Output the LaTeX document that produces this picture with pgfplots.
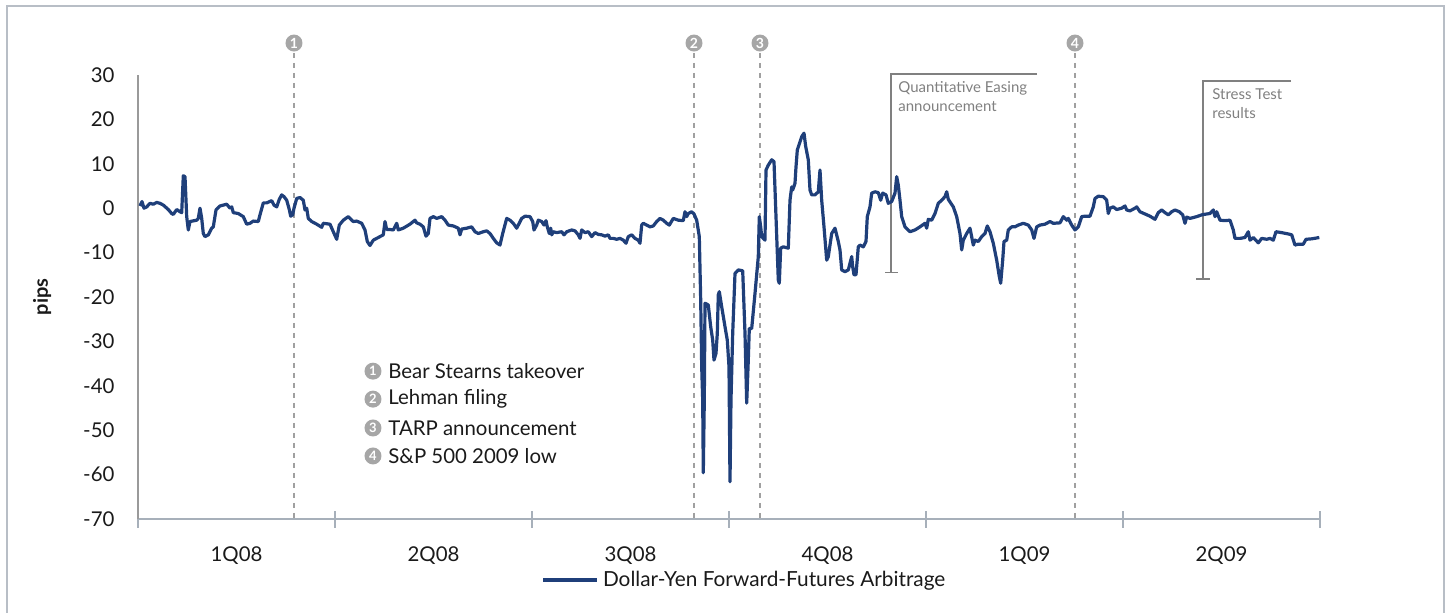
\documentclass[border=0pt]{standalone}
\usepackage{pgfplots}
\pgfplotsset{compat=1.18}
\usepackage{fontspec}
\setmainfont{Lato}
\definecolor{serie}{HTML}{1F3F7A}
\definecolor{framec}{HTML}{B8BEC6}
\definecolor{xaxc}{HTML}{A7B0BA}
\definecolor{yaxc}{HTML}{9A9A9A}
\definecolor{dashc}{HTML}{A0A0A0}
\definecolor{markc}{HTML}{A6A6A6}
\definecolor{annc}{HTML}{808080}
\definecolor{txt}{HTML}{1A1A1A}
\tikzset{
  evline/.style={dashc, line width=0.7pt, dash pattern=on 2.5pt off 2.5pt},
  evmark/.style={circle, fill=markc, inner sep=0pt, minimum size=8.5pt, text=white, font=\fontsize{7}{7}\selectfont\bfseries},
  keymark/.style={circle, fill=markc, inner sep=0pt, minimum size=8.5pt, text=white, font=\fontsize{6.5}{7}\selectfont\bfseries},
  keytext/.style={anchor=west, inner sep=0pt, text=txt, font=\fontsize{10.2}{12}\selectfont},
  anntext/.style={anchor=north west, align=left, text=annc, font=\fontsize{7.5}{9.5}\selectfont, inner sep=0pt},
}
\begin{document}
\begin{tikzpicture}
\useasboundingbox (-69pt,-46.5pt) rectangle (655pt,259.5pt);
\draw[framec, line width=0.75pt] (-65.5pt,-50pt) -- (-65.5pt,256.5pt) -- (653pt,256.5pt) -- (653pt,-50pt);
\begin{axis}[
  at={(0pt,0pt)}, anchor=south west,
  scale only axis, width=591pt, height=222pt,
  xmin=138, xmax=1320, ymin=-70, ymax=30,
  clip=false,
  axis x line=bottom, axis y line=left,
  every outer x axis line/.append style={-},
  every outer y axis line/.append style={-},
  x axis line style={xaxc, line width=1pt, -},
  y axis line style={yaxc, line width=0.75pt, -},
  xtick={138,335,532,729,926,1123,1320},
  xticklabels={1Q08,2Q08,3Q08,4Q08,1Q09,2Q09},
  x tick label as interval,
  tick align=center,
  major tick length=8.5pt,
  xtick style={xaxc, line width=1pt},
  ytick={-70,-60,...,30},
  ytick style={draw=none},
  /pgf/number format/assume math mode=true,
  ticklabel style={font=\fontsize{10.2}{12}\selectfont, text=txt},
  yticklabel style={xshift=-4pt},
  xticklabel style={yshift=-6pt},
  ylabel={pips},
  ylabel style={at={(axis description cs:-0.0812,0.5)}, anchor=center, font=\fontsize{10}{12}\selectfont\bfseries, text=txt},
  legend style={at={(axis description cs:0.514,-0.1374)}, anchor=center, draw=none, fill=none,
    font=\fontsize{10.4}{12}\selectfont, text=txt, inner sep=0pt},
  legend image code/.code={\draw[#1] (0pt,0pt) -- (27pt,0pt);},
  legend cell align=left,
]
% event lines
\draw[evline] (axis cs:294,35.0) -- (axis cs:294,-70);
\draw[evline] (axis cs:694,35.0) -- (axis cs:694,-70);
\draw[evline] (axis cs:760,35.0) -- (axis cs:760,-70);
\draw[evline] (axis cs:1075,35.0) -- (axis cs:1075,-70);
\node[evmark] at (axis cs:294,37.2) {1};
\node[evmark] at (axis cs:694,37.2) {2};
\node[evmark] at (axis cs:760,37.2) {3};
\node[evmark] at (axis cs:1075,37.2) {4};
% QE annotation
\draw[annc, line width=0.75pt] (axis cs:1037,30.2) -- (axis cs:891,30.2) -- (axis cs:891,-14.5);
\draw[annc, line width=0.75pt] (axis cs:885,-14.5) -- (axis cs:898,-14.5);
\node[anntext] at (axis cs:898,28.6) {Quantitative Easing\\announcement};
% Stress test
\draw[annc, line width=0.75pt] (axis cs:1291,28.6) -- (axis cs:1203,28.6) -- (axis cs:1203,-16.0);
\draw[annc, line width=0.75pt] (axis cs:1196,-16.0) -- (axis cs:1210,-16.0);
\node[anntext] at (axis cs:1212,27.0) {Stress Test\\results};
% event key
\node[keymark] at (axis cs:373,-36.7) {1};
\node[keymark] at (axis cs:373,-43.0) {2};
\node[keymark] at (axis cs:373,-49.5) {3};
\node[keymark] at (axis cs:373,-55.8) {4};
\node[keytext] at (axis cs:388,-36.7) {Bear Stearns takeover};
\node[keytext] at (axis cs:388,-43.0) {Lehman filing};
\node[keytext] at (axis cs:388,-49.5) {TARP announcement};
\node[keytext] at (axis cs:388,-55.8) {S\&P 500 2009 low};
\addplot[serie, line width=1.6pt, line join=round, no marks] table {
x y
140.0 0.5
142.0 1.5
144.0 0.0
146.7 0.3
150.0 1.1
153.3 0.9
156.7 1.3
160.0 1.1
163.3 0.7
168.3 -0.3
171.7 -1.2
173.3 -1.4
176.7 -0.3
180.0 -0.8
181.7 -1.0
183.3 7.3
185.0 7.1
186.7 -1.9
188.3 -4.9
190.0 -3.0
196.7 -2.7
198.3 -2.3
200.0 0.0
201.7 -2.3
203.3 -5.7
205.0 -6.4
208.3 -6.0
211.7 -4.5
213.3 -4.2
216.0 -0.4
220.0 0.5
226.7 0.9
230.0 0.0
231.7 0.3
233.3 -1.0
238.3 -1.2
243.3 -1.9
246.7 -3.6
250.0 -3.4
253.3 -2.9
258.3 -3.0
260.0 -1.5
263.3 1.2
266.7 1.2
271.7 1.7
274.0 0.7
276.7 0.3
279.3 2.0
281.7 3.0
284.0 2.6
286.7 1.8
289.3 -0.3
290.7 -1.8
292.7 -1.5
294.0 0.0
296.7 2.2
300.0 2.4
303.3 1.8
305.0 -0.4
306.7 0.0
308.3 -2.3
311.7 -3.0
316.7 -3.6
321.7 -4.3
323.3 -3.4
330.0 -3.6
333.3 -5.3
336.7 -7.0
339.3 -3.8
343.3 -2.7
348.3 -1.9
351.7 -2.7
353.3 -3.0
356.7 -2.9
361.7 -3.4
365.0 -4.9
367.3 -7.5
370.0 -8.4
373.3 -7.2
378.3 -6.6
383.3 -6.0
385.0 -3.0
386.7 -4.8
390.0 -4.8
393.3 -4.9
396.7 -3.4
398.3 -4.9
403.3 -4.5
410.0 -3.6
415.0 -2.7
416.7 -3.3
420.0 -3.6
423.3 -4.2
426.0 -6.3
428.3 -5.7
430.0 -2.3
433.3 -1.9
436.7 -2.3
441.7 -1.9
445.0 -2.7
448.3 -3.8
453.3 -4.0
458.3 -4.5
460.0 -6.0
461.7 -4.7
466.7 -4.5
471.7 -4.2
475.0 -5.3
478.3 -5.7
483.3 -5.3
486.7 -5.1
490.0 -5.7
493.3 -6.8
496.7 -7.8
500.0 -8.3
502.7 -5.7
506.7 -2.3
510.0 -2.7
513.3 -3.4
516.7 -4.5
518.3 -3.8
521.7 -2.3
525.0 -1.8
530.0 -1.9
532.7 -3.0
534.0 -4.9
536.7 -3.8
538.3 -2.7
541.7 -3.0
544.0 -3.8
546.0 -2.8
547.3 -4.2
549.3 -5.7
550.7 -4.5
551.7 -6.0
553.3 -5.3
556.7 -5.5
561.7 -5.3
564.0 -6.0
566.7 -5.3
571.7 -4.9
575.0 -5.1
578.3 -6.0
580.0 -6.8
581.7 -4.9
585.0 -5.5
588.3 -5.3
591.7 -6.4
595.0 -5.5
598.3 -5.9
601.7 -6.0
605.0 -6.3
608.3 -6.0
610.0 -6.8
613.3 -6.8
616.7 -7.0
620.0 -6.8
623.3 -7.2
626.0 -7.9
628.3 -6.4
631.7 -6.0
635.0 -6.8
638.3 -7.2
640.0 -7.9
641.7 -3.8
643.3 -3.4
646.7 -3.8
650.0 -4.2
653.3 -4.0
656.7 -3.0
660.0 -2.3
663.3 -2.7
666.7 -3.4
669.3 -3.8
673.3 -2.3
678.3 -2.7
683.3 -2.8
685.0 -0.8
686.7 -1.9
688.3 -1.2
691.7 -0.8
694.0 -1.3
696.7 -2.7
699.3 -6.4
700.7 -20.7
701.7 -35.7
702.7 -43.2
703.3 -59.6
704.3 -43.2
705.0 -21.4
708.3 -21.8
710.7 -26.7
712.7 -29.7
714.0 -34.2
716.0 -32.7
717.3 -28.2
718.3 -19.5
719.3 -18.8
721.7 -22.2
725.0 -26.7
727.3 -29.7
729.0 -35.7
730.0 -61.6
731.0 -43.2
732.7 -28.2
735.0 -14.7
738.3 -13.9
742.7 -14.1
745.0 -28.2
746.7 -43.9
748.3 -34.2
749.3 -27.1
751.7 -27.1
755.0 -19.2
758.3 -10.9
759.3 -1.9
760.7 -4.2
761.7 -6.4
765.0 -7.2
766.0 8.6
768.3 9.7
771.7 10.9
774.0 10.5
776.0 -1.9
778.3 -16.2
779.3 -16.9
780.7 -9.0
783.3 -8.7
788.3 -9.0
790.0 1.8
791.7 4.8
792.7 4.1
795.0 5.6
796.0 9.3
797.3 13.1
801.7 16.1
804.0 16.9
805.7 13.9
808.3 10.9
810.0 4.1
811.7 3.0
815.0 3.0
818.3 3.7
820.0 8.6
821.7 1.8
824.0 -4.2
826.7 -11.7
828.3 -10.9
831.7 -5.7
835.0 -4.5
838.3 -7.5
840.0 -9.4
841.7 -13.9
845.0 -14.3
848.3 -13.9
850.0 -12.4
851.7 -10.9
852.7 -13.2
854.0 -15.0
856.0 -15.0
858.3 -8.7
860.0 -8.3
863.3 -8.7
866.0 -7.5
867.3 -1.9
870.0 0.3
871.7 3.4
875.0 3.7
878.3 3.5
880.7 1.8
882.7 3.4
886.0 3.0
888.3 1.1
891.7 1.5
895.0 3.4
896.7 7.1
898.3 5.2
900.0 1.8
901.7 -1.9
905.0 -4.2
910.0 -5.3
915.0 -4.9
920.0 -4.2
925.0 -3.4
926.7 -4.5
928.3 -2.5
931.7 -2.7
935.0 -1.2
938.3 1.1
941.7 1.8
945.0 2.6
946.7 3.7
948.3 2.0
953.3 0.3
956.7 -1.9
960.0 -5.7
961.7 -9.4
963.3 -7.2
966.7 -5.7
970.0 -4.5
973.3 -8.3
975.0 -7.2
978.3 -7.5
981.7 -6.4
985.0 -5.7
987.3 -4.0
990.0 -5.3
993.3 -7.9
996.7 -11.7
999.3 -15.4
1000.7 -16.9
1002.7 -11.7
1004.0 -7.5
1006.7 -7.2
1008.3 -4.9
1011.7 -4.2
1015.0 -4.2
1018.3 -3.8
1023.3 -3.4
1028.3 -3.8
1031.7 -4.9
1034.0 -6.8
1036.7 -4.2
1040.0 -3.8
1045.0 -3.6
1050.0 -3.0
1053.3 -3.4
1060.0 -3.3
1063.3 -1.9
1066.7 -2.7
1068.3 -2.3
1071.7 -3.8
1075.0 -4.9
1078.3 -4.2
1081.7 -1.9
1085.0 -1.8
1090.0 -1.8
1093.3 0.3
1095.0 2.2
1098.3 2.7
1103.3 2.6
1106.7 1.8
1108.3 -1.2
1110.0 0.0
1113.3 0.3
1116.7 -0.3
1121.7 0.0
1125.0 0.5
1126.7 -0.4
1130.0 -0.6
1135.0 0.0
1136.7 0.3
1140.0 -0.8
1145.0 -1.3
1150.0 -1.8
1155.0 -2.5
1158.3 -1.0
1161.7 -0.4
1165.0 -1.0
1168.3 -1.5
1171.7 -0.8
1175.0 -0.4
1179.3 -0.8
1182.7 -1.5
1185.0 -3.4
1186.7 -2.0
1190.0 -2.3
1196.7 -1.9
1201.7 -1.5
1206.7 -1.3
1210.0 -1.2
1213.3 -0.4
1215.0 -1.9
1216.7 -0.8
1220.0 -2.7
1225.0 -2.8
1230.0 -2.7
1233.3 -4.9
1235.0 -6.8
1240.0 -6.8
1245.0 -6.6
1248.3 -5.3
1250.0 -7.2
1253.3 -6.6
1258.3 -7.8
1261.7 -6.8
1266.7 -7.0
1270.0 -6.8
1273.3 -7.2
1276.0 -5.3
1281.7 -5.5
1288.3 -5.8
1291.7 -6.0
1295.0 -8.3
1298.3 -8.1
1303.3 -8.1
1306.0 -7.0
1311.7 -6.9
1319.3 -6.6
};
\addlegendentry{Dollar-Yen Forward-Futures Arbitrage}
\end{axis}
\end{tikzpicture}
\end{document}
